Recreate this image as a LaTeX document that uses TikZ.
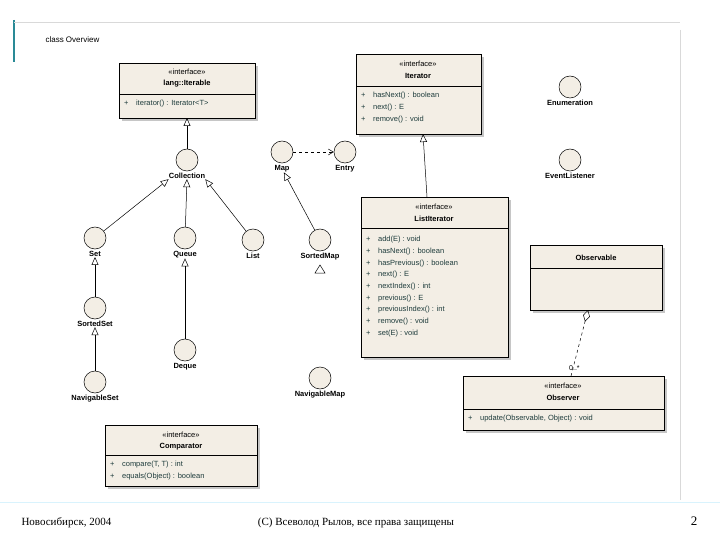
\documentclass[tikz,border=0pt]{standalone}
\usepackage{fontspec}
\setmainfont{Liberation Sans}
\newfontfamily\ftserif{Liberation Serif}
\usetikzlibrary{arrows.meta,shapes.geometric,positioning}
\definecolor{bg}{HTML}{F3EEE5}
\definecolor{tl}{HTML}{2A8A96}
\definecolor{mt}{HTML}{1E3C3C}
\begin{document}
\begin{tikzpicture}[x=1pt,y=-1pt,
  ifc/.style={circle,draw,fill=bg,minimum size=22pt,inner sep=0pt,line width=0.5pt},
  lbl/.style={font=\fontsize{7.5}{8}\selectfont\bfseries,inner sep=0pt},
  mem/.style={font=\fontsize{7.5}{9}\selectfont,text=mt,anchor=west,inner sep=0pt},
  gen/.style={-{Triangle[open,length=8pt,width=7pt]},line width=0.5pt},
  dep/.style={-{Straight Barb[length=5pt,width=6pt]},dashed,line width=0.5pt}]
\useasboundingbox (0,0) rectangle (720,540);
\draw[tl,line width=1.5pt] (14,20) -- (14,62);
\draw[gray!30] (14,22) -- (680,22) (680,30) -- (680,500);
\draw[cyan!15,line width=1pt] (0,502) -- (720,502);
\node[font=\fontsize{8}{9}\selectfont,anchor=west] (title) at (42,40) {class Overview};
\newcommand\ubox[5]{% name, x1,y1,x2,y2
  \fill[gray!45] (#2+3,#3+3) rectangle (#4+3,#5+3);
  \draw[fill=bg,line width=0.5pt] (#2,#3) rectangle (#4,#5);}
% Iterable
\ubox{it}{119}{63}{255}{118}
\draw (119,94) -- (255,94);
\node[lbl,font=\fontsize{7.5}{8}\selectfont] (itst) at (187,72) {«interface»};
\node[lbl] (itn) at (187,84) {lang::Iterable};
\node[mem] (itm) at (124,104) {+\quad iterator() : Iterator<T>};
\coordinate (itb) at (187,118);
% Iterator
\ubox{ir}{356}{54}{481}{134}
\draw (356,86) -- (481,86);
\node[lbl,font=\fontsize{7.5}{8}\selectfont] (irst) at (418,64) {«interface»};
\node[lbl] (irn) at (418,76) {Iterator};
\node[mem] at (361,96) {+\quad hasNext() : boolean};
\node[mem] at (361,108) {+\quad next() : E};
\node[mem] at (361,120) {+\quad remove() : void};
\coordinate (irb) at (423,134);
% ListIterator
\ubox{li}{361}{197}{508}{357}
\draw (361,228) -- (508,228);
\node[lbl,font=\fontsize{7.5}{8}\selectfont] at (434,207) {«interface»};
\node[lbl] at (434,219) {ListIterator};
\foreach \t [count=\i] in {add(E) : void,hasNext() : boolean,hasPrevious() : boolean,next() : E,nextIndex() : int,previous() : E,previousIndex() : int,remove() : void,set(E) : void}
  \node[mem] at (366,228+11.7*\i) {+\quad \t};
\coordinate (lit) at (427,197);
% Observable
\ubox{ob}{530}{245}{662}{310}
\draw (530,268) -- (662,268);
\node[lbl] at (596,258) {Observable};
\coordinate (obb) at (588,310);
% Observer
\ubox{os}{463}{376}{664}{430}
\draw (463,409) -- (664,409);
\node[lbl,font=\fontsize{7.5}{8}\selectfont] at (563,386) {«interface»};
\node[lbl] at (563,398) {Observer};
\node[mem] at (468,419) {+\quad update(Observable, Object) : void};
\coordinate (ost) at (571,376);
% Comparator
\ubox{co}{105}{425}{257}{486}
\draw (105,455) -- (257,455);
\node[lbl,font=\fontsize{7.5}{8}\selectfont] at (181,435) {«interface»};
\node[lbl] at (181,447) {Comparator};
\node[mem] at (110,465) {+\quad compare(T, T) : int};
\node[mem] at (110,477) {+\quad equals(Object) : boolean};
% interface circles
\foreach \n/\x/\y/\t in {enum/570/87/Enumeration,evl/570/160/EventListener,coll/187/160/Collection,map/282/152/Map,entry/345/152/Entry,set/95/238/Set,queue/185/238/Queue,list/253/240/List,smap/320/240/SortedMap,sset/95/308/SortedSet,deque/185/350/Deque,nset/95/382/NavigableSet,nmap/320/378/NavigableMap}{
  \node[ifc] (\n) at (\x,\y) {};
  \node[lbl,anchor=north] (\n-l) at ([yshift=-2pt]\n.south) {\t};
}
\draw[gen] (set) -- (coll-l.south west);
\draw[gen] (coll) -- (itb);
\draw[gen] (queue) -- (coll-l.south);
\draw[gen] (list) -- (coll-l.south east);
\draw[gen] (sset) -- (set-l);
\draw[gen] (nset) -- (sset-l);
\draw[gen] (deque) -- (queue-l);
\draw[gen] (smap) -- (map-l);
\draw[dep] (map) -- (entry);
\draw[gen] (lit) -- (irb);
\draw[dashed,-{Diamond[open,length=12pt,width=7pt]},line width=0.5pt] (ost) -- (obb);
\node[font=\fontsize{7}{8}\selectfont,anchor=west,inner sep=0pt] (mult) at (569,368) {0..*};
\draw[line width=0.5pt] (315,273) -- (320,265) -- (325,273) -- cycle;
% footer
\node[font=\ftserif\fontsize{11}{13}\selectfont,anchor=west] (f1) at (18,523) {Новосибирск, 2004};
\node[font=\ftserif\fontsize{11}{13}\selectfont] (f2) at (356,523) {(С) Всеволод Рылов, все права защищены};
\node[font=\ftserif\fontsize{13}{15}\selectfont] (f3) at (694,521) {2};
\end{tikzpicture}
\end{document}
